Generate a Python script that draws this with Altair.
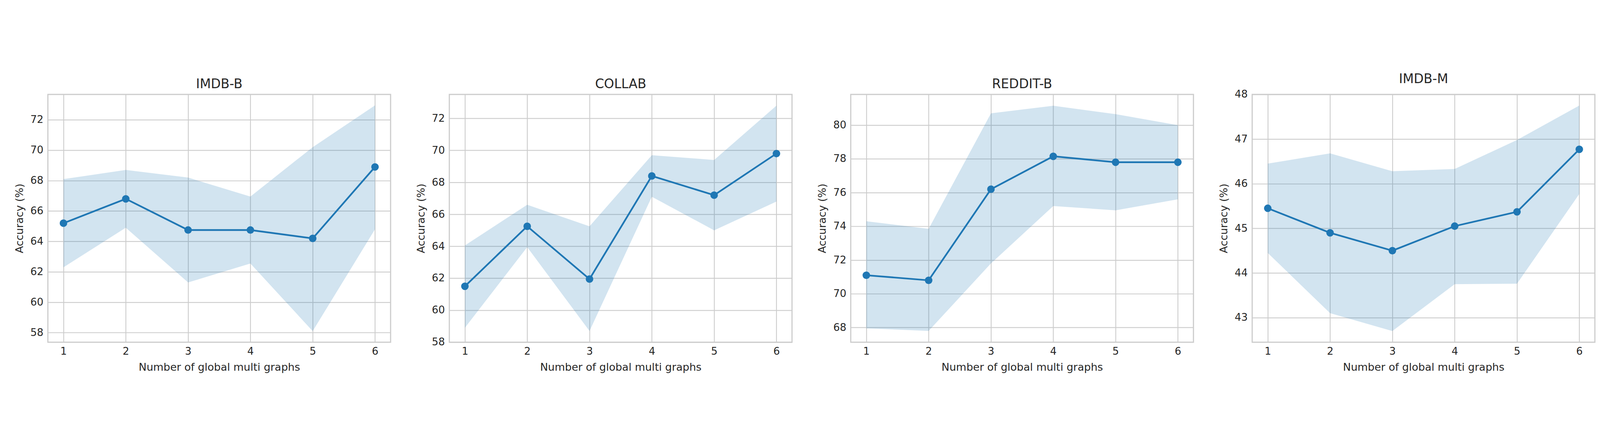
import altair as alt
import pandas as pd

datasets = ["IMDB-B", "COLLAB", "REDDIT-B", "IMDB-M"]
num_graphs = [1, 2, 3, 4, 5, 6]

mean_imdbb = [65.2, 66.8, 64.75, 64.75, 64.2, 68.9]
upper_imdbb = [68.1, 68.7, 68.2, 66.95, 70.2, 72.95]
lower_imdbb = [62.3, 64.9, 61.3, 62.55, 58.1, 64.8]

mean_collab = [61.5, 65.25, 61.95, 68.4, 67.2, 69.8]
upper_collab = [64.05, 66.6, 65.25, 69.7, 69.4, 72.8]
lower_collab = [58.9, 63.95, 58.7, 67.1, 65.0, 66.8]

mean_reddit = [71.1, 70.8, 76.2, 78.15, 77.8, 77.8]
upper_reddit = [74.3, 73.85, 80.7, 81.15, 80.65, 80.0]
lower_reddit = [67.95, 67.8, 71.8, 75.2, 74.95, 75.6]

mean_imdbm = [45.45, 44.9, 44.5, 45.05, 45.37, 46.77]
upper_imdbm = [46.45, 46.68, 46.28, 46.33, 46.98, 47.75]
lower_imdbm = [44.45, 43.1, 42.7, 43.75, 43.76, 45.77]

y_domains = [[57.37, 73.67], [58.0, 73.5], [67.13, 81.82], [42.45, 48.0]]
y_ticks = [
    [58, 60, 62, 64, 66, 68, 70, 72],
    [58, 60, 62, 64, 66, 68, 70, 72],
    [68, 70, 72, 74, 76, 78, 80],
    [43, 44, 45, 46, 47, 48],
]

series = [
    (mean_imdbb, upper_imdbb, lower_imdbb),
    (mean_collab, upper_collab, lower_collab),
    (mean_reddit, upper_reddit, lower_reddit),
    (mean_imdbm, upper_imdbm, lower_imdbm),
]

COLOR = "#1f77b4"
TEXT = "#262626"
FONT = "DejaVu Sans"

panels = []
for name, (m, u, l), dom, ticks in zip(datasets, series, y_domains, y_ticks):
    df = pd.DataFrame({"x": num_graphs, "mean": m, "upper": u, "lower": l})
    xenc = alt.X(
        "x:Q",
        scale=alt.Scale(domain=[0.75, 6.25], nice=False, zero=False),
        axis=alt.Axis(values=num_graphs, format="d", title="Number of global multi graphs"),
    )
    yscale = alt.Scale(domain=dom, nice=False, zero=False)
    band = alt.Chart(df).mark_area(color=COLOR, opacity=0.2).encode(
        x=xenc,
        y=alt.Y("upper:Q", scale=yscale, axis=alt.Axis(values=ticks, format="d", title="Accuracy (%)")),
        y2="lower:Q",
    )
    line = alt.Chart(df).mark_line(color=COLOR, strokeWidth=6).encode(
        x=xenc, y=alt.Y("mean:Q", scale=yscale)
    )
    pts = alt.Chart(df).mark_point(filled=True, color=COLOR, opacity=1, size=700, shape="circle").encode(
        x=xenc, y=alt.Y("mean:Q", scale=yscale)
    )
    panel = alt.layer(band, line, pts).properties(
        width=1202,
        height=870,
        title=alt.TitleParams(name, fontSize=45, fontWeight="normal", color=TEXT, offset=13, font=FONT),
    )
    panels.append(panel)

chart = alt.hconcat(*panels, spacing=84).properties(
    padding={"left": 37, "top": 39, "right": 5, "bottom": 5}
).configure(font=FONT).configure_view(
    stroke="#cccccc", strokeWidth=4
).configure_axis(
    grid=True,
    gridColor="#cccccc",
    gridWidth=3,
    domain=False,
    ticks=False,
    labelFont=FONT,
    labelFontSize=36,
    labelColor=TEXT,
    labelPadding=16,
    titleFont=FONT,
    titleFontSize=37,
    titleFontWeight="normal",
    titleColor=TEXT,
).configure_axisX(
    titlePadding=19,
).configure_axisY(
    titlePadding=18,
)

chart.save("out.html", embed_options={"renderer": "svg", "actions": False})
